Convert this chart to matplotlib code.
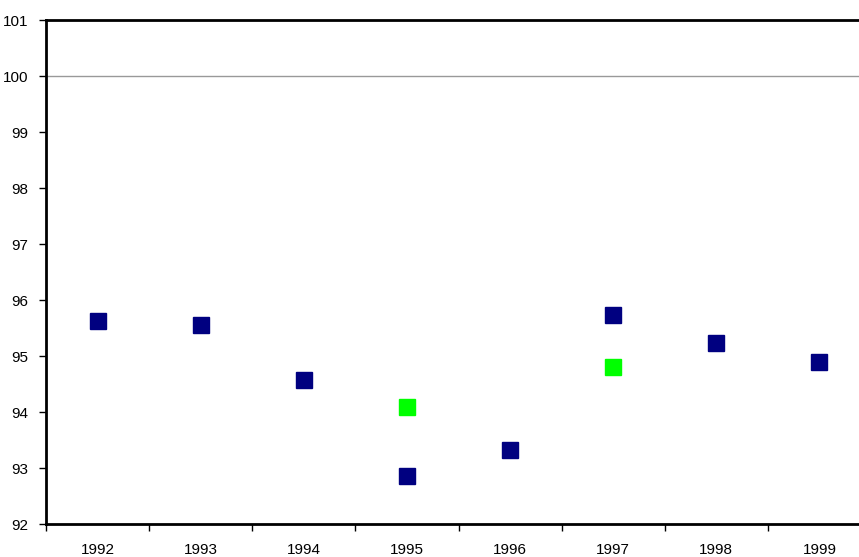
import numpy as np
import matplotlib.pyplot as plt

plt.rcParams['font.family'] = ['Liberation Sans', 'DejaVu Sans']

years = ['1992', '1993', '1994', '1995', '1996', '1997', '1998', '1999']
blue_vals = [95.63, 95.56, 94.58, 92.86, 93.33, 95.74, 95.24, 94.89]
green_years = ['1995', '1997']
green_vals = [94.09, 94.81]

fig = plt.figure(figsize=(8.59, 5.57), dpi=100)
ax = fig.add_axes([46 / 859, 33 / 557, (871 - 46) / 859, 504 / 557])

x = np.arange(len(years))
gx = [years.index(y) for y in green_years]

ax.axhline(100, color='#999999', lw=1, zorder=1)
ax.plot(x, blue_vals, 's', color='#000080', markersize=12, zorder=3)
ax.plot(gx, green_vals, 's', color='#00ff00', markersize=12, zorder=3)

ax.set_xlim(-0.5, len(years) - 0.5)
ax.set_ylim(92, 101)
ax.set_yticks(range(92, 102))
ax.set_xticks(x)
ax.set_xticklabels(years)
ax.set_xticks(np.arange(-0.5, len(years)), minor=True)
ax.tick_params(axis='x', which='major', length=0, pad=14, labelsize=11)
ax.tick_params(axis='x', which='minor', length=5, width=1, direction='out')
ax.tick_params(axis='y', length=5, width=1, pad=8, labelsize=11)

for s in ['left', 'bottom', 'top']:
    ax.spines[s].set_linewidth(2)
ax.spines['right'].set_visible(False)

plt.savefig('out.png', dpi=100)
